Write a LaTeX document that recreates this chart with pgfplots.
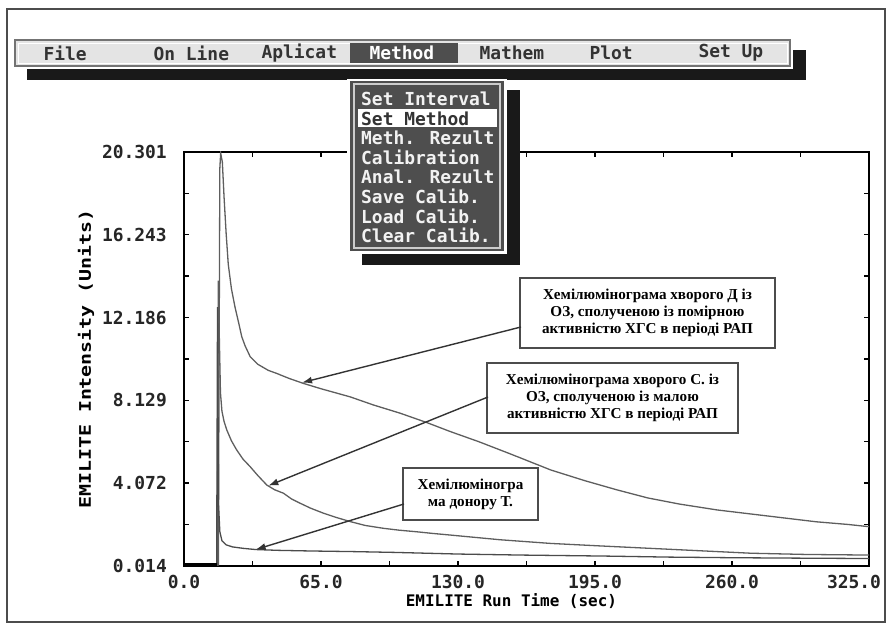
\documentclass[border=0pt]{standalone}
\usepackage{fontspec}
\setmainfont{Liberation Serif}
\newfontfamily\mono{DejaVu Sans Mono}
\usepackage{pgfplots}
\pgfplotsset{compat=1.18}
\usetikzlibrary{arrows.meta}
\definecolor{curve}{HTML}{5E5E5E}
\definecolor{menubg}{HTML}{E4E4E4}
\definecolor{dd}{HTML}{4E4E4E}
\newcommand\tl{\mono\bfseries\fontsize{18}{18}\selectfont}
\newcommand\al{\mono\bfseries\fontsize{16}{16}\selectfont}
\newcommand\mf{\mono\bfseries\fontsize{18}{18}\selectfont}
\newcommand\bx{\bfseries\fontsize{15.2}{17}\selectfont}
\begin{document}
\begin{tikzpicture}
\useasboundingbox (0,0) rectangle (887bp,630bp);
\begin{axis}[at={(184bp,64bp)}, anchor=south west, scale only axis,
  width=685bp, height=414bp,
  xmin=0, xmax=325, ymin=0.014, ymax=20.301,
  xtick={0,65,130,195,260,325},
  xticklabels={0.0,65.0,130.0,195.0,260.0,\hspace*{-30bp}325.0},
  minor xtick={32.5,97.5,162.5,227.5,292.5},
  ytick={0.014,4.0714,8.1288,12.1862,16.2436,20.301},
  yticklabels={0.014,4.072,8.129,12.186,16.243,20.301},
  minor ytick={2.0427,6.1001,10.1575,14.2149,18.2723},
  tick align=inside, major tick length=5bp, minor tick length=5bp,
  every tick/.style={black, line width=1.4bp},
  axis line style={black, line width=2.6bp},
  xticklabel style={font=\tl, text=black!85, inner sep=0pt, yshift=-9bp},
  yticklabel style={font=\tl, text=black!85, inner sep=0pt, xshift=-17bp},
  xlabel={EMILITE Run Time (sec)},
  ylabel={\scalebox{1.25}[1]{EMILITE Intensity (Units)}},
  xlabel style={font=\al, at={(axis description cs:0.478,0)}, anchor=center, yshift=-35bp},
  ylabel style={font=\al, at={([xshift=-98bp]axis description cs:0,0.5)}, anchor=center},
]
% curve D (top)
\addplot[curve, line width=1.3bp] coordinates {
(0,0.06) (16.3,0.06) (17.0,19.5) (17.4,20.25) (18.2,19.8) (19,18.1) (20,16.3) (21,14.8)
(22.5,13.6) (24.2,12.7) (26,11.9) (27.4,11.25) (29,10.8) (31.4,10.27) (35,9.9) (40,9.6)
(44,9.45) (50,9.2) (56.7,8.96) (65,8.7) (78.9,8.3) (90,7.9) (102.6,7.5) (115,7.05)
(126.4,6.6) (140,6.1) (155,5.5) (174,4.72) (190,4.2) (205.6,3.74) (220,3.35) (235,3.05)
(253,2.76) (270,2.55) (284.6,2.37) (300,2.18) (315,2.05) (325,1.94)};
% curve C (middle)
\addplot[curve, line width=1.3bp] coordinates {
(0,0.06) (15.8,0.06) (16.3,14.0) (16.8,11) (17.3,8.5) (18,7.6) (19,7.1) (20.3,6.68)
(22.5,6.15) (25,5.7) (28,5.25) (31.4,4.88) (35,4.45) (39.3,3.98) (43,3.75) (47.2,3.58)
(51,3.3) (55.1,3.09) (60,2.85) (66.2,2.6) (72,2.4) (78.9,2.19) (86,2.0) (94.7,1.86)
(102,1.77) (110.5,1.69) (118,1.61) (126.4,1.53) (150,1.3) (174,1.12) (197,1.0) (221,0.88)
(245,0.76) (269,0.64) (295,0.58) (325,0.55)};
% donor T (bottom)
\addplot[curve!80!black, line width=1.3bp] coordinates {
(0,0.06) (15.5,0.06) (15.9,12.7) (16.4,3.0) (17,1.7) (18,1.25) (20,1.05) (23,0.95)
(28,0.88) (34,0.82) (45,0.78) (60,0.75) (80,0.72) (100,0.68) (130,0.6) (160,0.55)
(200,0.5) (230,0.45) (260,0.42) (290,0.4) (325,0.38)};
% thick baseline before injection
\addplot[black, line width=3bp] coordinates {(0,0.1) (15.5,0.1)};
\coordinate (a1) at (axis cs:56,9.0);
\coordinate (a2) at (axis cs:40,3.95);
\coordinate (a3) at (axis cs:34,0.82);
\end{axis}
\begin{scope}[shift={(0bp,630bp)}, x=1bp, y=-1bp]
% annotation boxes
\node[draw=black!70, line width=1.8bp, fill=white, minimum width=255bp, minimum height=70bp, inner sep=2bp, align=center, font=\bx]
  (b1) at (647.5,313) {Хемілюмінограма хворого Д із\\ОЗ, сполученою із помірною\\активністю ХГС в періоді РАП};
\node[draw=black!70, line width=1.8bp, fill=white, minimum width=251bp, minimum height=70bp, inner sep=2bp, align=center, font=\bx]
  (b2) at (612.5,398) {Хемілюмінограма хворого С. із\\ОЗ, сполученою із малою\\активністю ХГС в періоді РАП};
\node[draw=black!70, line width=1.8bp, fill=white, minimum width=135bp, minimum height=52bp, inner sep=2bp, align=center, font=\bx]
  (b3) at (470.5,494) {Хемілюміногра\\ма донору Т.};
\draw[black!80, line width=1.4bp, -{Latex[length=10bp,width=7bp]}] (521,327) -- (a1);
\draw[black!80, line width=1.4bp, -{Latex[length=10bp,width=7bp]}] (488,397) -- (a2);
\draw[black!80, line width=1.4bp, -{Latex[length=10bp,width=7bp]}] (404,504) -- (a3);
% menu bar
\fill[black!90] (27,50) rectangle (806,80);
\fill[white] (12,37) rectangle (793,69);
\filldraw[fill=menubg, draw=black!55, line width=1.2bp] (15,40) rectangle (790,66);
\draw[white, line width=0.8bp] (18,43) rectangle (787,63);
\fill[dd] (350,43) rectangle (458,63);
\node[font=\mf, text=black!80, anchor=west] at (40,53) {File};
\node[font=\mf, text=black!80, anchor=west] at (150,53) {On Line};
\node[font=\mf, text=black!80, anchor=west] at (258,53) {Aplicat};
\node[font=\mf, text=white, anchor=west] at (366,53) {Method};
\node[font=\mf, text=black!80, anchor=west] at (476,53) {Mathem};
\node[font=\mf, text=black!80, anchor=west] at (586,53) {Plot};
\node[font=\mf, text=black!80, anchor=west] at (695,53) {Set Up};
% dropdown
\fill[black!90] (362,90) rectangle (520,265);
\fill[white] (347,79) rectangle (507,254);
\fill[dd] (350,81) rectangle (504,251);
\draw[black!20, line width=1.2bp] (354,84) rectangle (500,248);
\fill[white] (358,109) rectangle (497,127);
\foreach \t [count=\i from 0] in {Set Interval,Set Method,Meth. Rezult,Calibration,Anal. Rezult,Save Calib.,Load Calib.,Clear Calib.}{
  \ifnum\i=1
    \node[font=\mf, text=black!80, anchor=west, inner sep=0pt] at (361,99+19.5*\i) {\t};
  \else
    \node[font=\mf, text=black!5, anchor=west, inner sep=0pt] at (361,99+19.5*\i) {\t};
  \fi
}
% outer frame
\draw[black!70, line width=1.2bp] (7,9) rectangle (885,622);
\end{scope}
\end{tikzpicture}
\end{document}
